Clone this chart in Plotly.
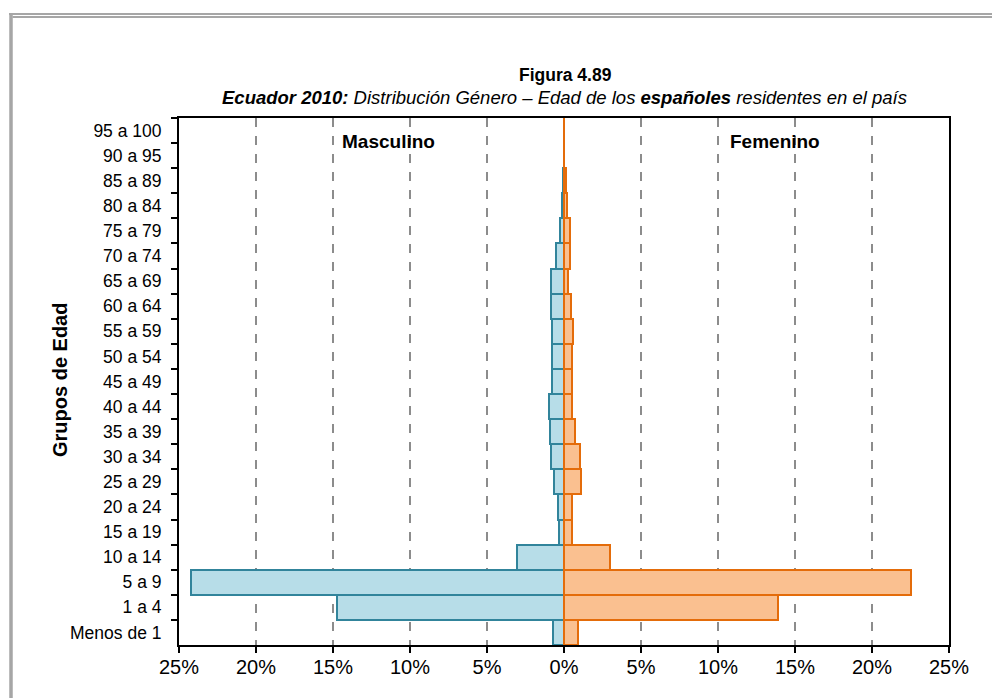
import plotly.graph_objects as go

# Data (top to bottom as shown)
age_groups = ["95 a 100", "90 a 95", "85 a 89", "80 a 84", "75 a 79", "70 a 74",
              "65 a 69", "60 a 64", "55 a 59", "50 a 54", "45 a 49", "40 a 44",
              "35 a 39", "30 a 34", "25 a 29", "20 a 24", "15 a 19", "10 a 14",
              "5 a 9", "1 a 4", "Menos de 1"]
masculino = [0.0, 0.0, 0.06, 0.15, 0.24, 0.54, 0.85, 0.85, 0.76, 0.76, 0.80, 0.95,
             0.91, 0.87, 0.65, 0.37, 0.35, 3.02, 24.23, 14.76, 0.72]
femenino = [0.02, 0.03, 0.10, 0.22, 0.41, 0.37, 0.28, 0.46, 0.56, 0.52, 0.50, 0.54,
            0.69, 1.02, 1.10, 0.54, 0.51, 3.00, 22.53, 13.88, 0.90]
x_ticks = [-25, -20, -15, -10, -5, 0, 5, 10, 15, 20, 25]
x_tick_labels = ["25%", "20%", "15%", "10%", "5%", "0%", "5%", "10%", "15%", "20%", "25%"]

FONT = "Arial, 'Liberation Sans', sans-serif"

fig = go.Figure()
fig.add_trace(go.Bar(
    y=age_groups, x=[-v for v in masculino], orientation="h", name="Masculino",
    marker=dict(color="#b7dde8", line=dict(color="#31849b", width=2)),
))
fig.add_trace(go.Bar(
    y=age_groups, x=femenino, orientation="h", name="Femenino",
    marker=dict(color="#fac090", line=dict(color="#e46c0a", width=2)),
))

# page body has an 8px margin; work in screen coordinates and convert
OFF = 8
W, H = 1000 - OFF, 698 - OFF
L = 179 - OFF
T = 118 - OFF
R = W - (949 - OFF)
B = H - (645 - OFF)
pw, ph = W - L - R, H - T - B

def px(x):
    return (x - OFF - L) / pw

def py(y):
    return (H - B - (y - OFF)) / ph

fig.update_layout(
    width=W, height=H,
    margin=dict(l=L, r=R, t=T, b=B, autoexpand=False),
    paper_bgcolor="white", plot_bgcolor="white",
    barmode="overlay", bargap=0,
    showlegend=False,
    font=dict(family=FONT, color="black"),
    xaxis=dict(
        range=[-25, 25], tickvals=x_ticks, ticktext=x_tick_labels,
        tickfont=dict(size=20), ticks="outside", ticklen=6, tickwidth=2, tickcolor="black",
        ticklabelstandoff=-3,
        showline=True, linecolor="black", linewidth=2, mirror=True,
        showgrid=True, gridcolor="#8c8c8c", griddash="dash", gridwidth=1.5,
        zeroline=False,
    ),
    yaxis=dict(
        autorange="reversed", type="category",
        tickfont=dict(size=17.5), ticks="outside", ticklen=6, tickwidth=2, tickcolor="black",
        tickson="boundaries", ticklabelstandoff=12,
        showline=True, linecolor="black", linewidth=2, mirror=True,
        showgrid=False, zeroline=False,
    ),
    annotations=[
        dict(text="<b>Figura 4.89</b>", x=px(565), y=py(75), xref="paper", yref="paper",
             showarrow=False, font=dict(size=17.5), xanchor="center", yanchor="middle"),
        dict(text="<i><b>Ecuador 2010:</b> Distribución Género – Edad de los <b>españoles</b> residentes en el país</i>",
             x=px(564), y=py(97), xref="paper", yref="paper",
             showarrow=False, font=dict(size=18.5), xanchor="center", yanchor="middle"),
        dict(text="<b>Grupos de Edad</b>", x=px(60), y=py(380), xref="paper", yref="paper",
             showarrow=False, textangle=-90, font=dict(size=20), xanchor="center", yanchor="middle"),
        dict(text="<b>Masculino</b>", x=px(388), y=py(141), xref="paper", yref="paper",
             showarrow=False, font=dict(size=19), xanchor="center", yanchor="middle"),
        dict(text="<b>Femenino</b>", x=px(775), y=py(141), xref="paper", yref="paper",
             showarrow=False, font=dict(size=19), xanchor="center", yanchor="middle"),
    ],
    shapes=[
        dict(type="line", xref="paper", yref="paper", x0=px(11), x1=px(11), y0=py(13), y1=py(720),
             line=dict(color="#a6a6a6", width=3.5)),
        dict(type="line", xref="paper", yref="paper", x0=px(9), x1=px(1020), y0=py(14), y1=py(14),
             line=dict(color="#a6a6a6", width=2)),
        dict(type="line", xref="paper", yref="paper", x0=px(12.5), x1=px(1020), y0=py(17), y1=py(17),
             line=dict(color="#a6a6a6", width=2)),
    ],
)

fig.write_html("out.html")
